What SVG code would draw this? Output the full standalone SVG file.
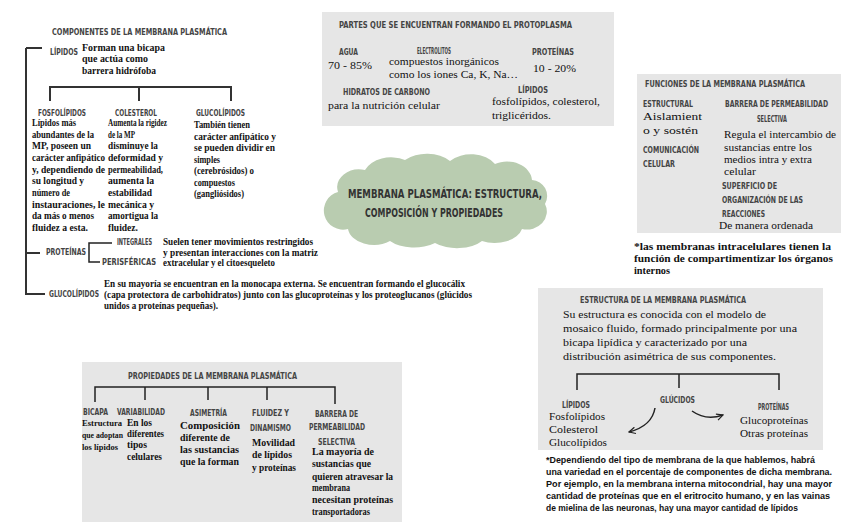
<svg xmlns="http://www.w3.org/2000/svg" width="848" height="530" viewBox="0 0 848 530">
<style>
.h{font-family:"DejaVu Sans Condensed","Liberation Sans",sans-serif;font-weight:bold;font-size:8px;fill:#444}
.b{font-family:"Liberation Serif",serif;font-weight:bold;font-size:10px;fill:#111}
.c{font-family:"Liberation Serif",serif;font-weight:bold;font-size:9.5px;fill:#111}
.s{font-family:"Liberation Serif",serif;font-weight:bold;font-size:8.5px;fill:#111}
.m{font-family:"Liberation Serif",serif;font-size:11px;fill:#111}
.n{font-family:"Liberation Sans",sans-serif;font-weight:bold;font-size:8.5px;fill:#111}
.t{font-family:"DejaVu Sans Condensed","Liberation Sans",sans-serif;font-weight:bold;font-size:12px;fill:#333}
.box{fill:#e6e6e6}
.ln{fill:none;stroke:#222;stroke-width:1.5}
.lt{fill:none;stroke:#333;stroke-width:2}
.bar{fill:#333}
</style>
<defs>
<marker id="chev" viewBox="0 0 10 10" refX="9" refY="5" markerWidth="8" markerHeight="8" orient="auto" markerUnits="userSpaceOnUse">
<path d="M1,1 L9,5 L1,9" fill="none" stroke="#222" stroke-width="1.5"/>
</marker>
</defs>

<g id="componentes">
<text class="h" x="52" y="35" textLength="175" lengthAdjust="spacingAndGlyphs">COMPONENTES DE LA MEMBRANA PLASMÁTICA</text>
</g>

<g id="lipidos">
<text class="h" x="50" y="55" textLength="28" lengthAdjust="spacingAndGlyphs">LÍPIDOS</text>
<text class="b" x="82" y="51" textLength="83" lengthAdjust="spacingAndGlyphs">Forman una bicapa</text>
<text class="b" x="82" y="62" textLength="66" lengthAdjust="spacingAndGlyphs">que actúa como</text>
<text class="b" x="82" y="74" textLength="74" lengthAdjust="spacingAndGlyphs">barrera hidrófoba</text>
</g>

<g id="fosfolipidos">
<text class="h" x="38" y="116" textLength="48" lengthAdjust="spacingAndGlyphs">FOSFOLÍPIDOS</text>
<text class="c" x="32" y="126" textLength="44" lengthAdjust="spacingAndGlyphs">Lípidos más</text>
<text class="c" x="32" y="137.7" textLength="62" lengthAdjust="spacingAndGlyphs">abundantes de la</text>
<text class="c" x="32" y="149.3" textLength="59" lengthAdjust="spacingAndGlyphs">MP, poseen un</text>
<text class="c" x="32" y="161" textLength="73" lengthAdjust="spacingAndGlyphs">carácter anfipático</text>
<text class="c" x="32" y="172.7" textLength="73" lengthAdjust="spacingAndGlyphs">y, dependiendo de</text>
<text class="c" x="32" y="184.3" textLength="52" lengthAdjust="spacingAndGlyphs">su longitud y</text>
<text class="c" x="32" y="196" textLength="38" lengthAdjust="spacingAndGlyphs">número de</text>
<text class="c" x="32" y="207.7" textLength="73" lengthAdjust="spacingAndGlyphs">instauraciones, le</text>
<text class="c" x="32" y="219.3" textLength="62" lengthAdjust="spacingAndGlyphs">da más o menos</text>
<text class="c" x="32" y="231" textLength="56" lengthAdjust="spacingAndGlyphs">fluidez a esta.</text>
</g>

<g id="colesterol">
<text class="h" x="115" y="116" textLength="42" lengthAdjust="spacingAndGlyphs">COLESTEROL</text>
<text class="c" x="108" y="126" textLength="59" lengthAdjust="spacingAndGlyphs">Aumenta la rigidez</text>
<text class="c" x="108" y="137.7" textLength="27" lengthAdjust="spacingAndGlyphs">de la MP</text>
<text class="c" x="108" y="149.3" textLength="50" lengthAdjust="spacingAndGlyphs">disminuye la</text>
<text class="c" x="108" y="161" textLength="55" lengthAdjust="spacingAndGlyphs">deformidad y</text>
<text class="c" x="108" y="172.7" textLength="55" lengthAdjust="spacingAndGlyphs">permeabilidad,</text>
<text class="c" x="108" y="184.3" textLength="46" lengthAdjust="spacingAndGlyphs">aumenta la</text>
<text class="c" x="108" y="196" textLength="44" lengthAdjust="spacingAndGlyphs">estabilidad</text>
<text class="c" x="108" y="207.7" textLength="46" lengthAdjust="spacingAndGlyphs">mecánica y</text>
<text class="c" x="108" y="219.3" textLength="50" lengthAdjust="spacingAndGlyphs">amortigua la</text>
<text class="c" x="108" y="231" textLength="30" lengthAdjust="spacingAndGlyphs">fluidez.</text>
</g>

<g id="glucolipidos-col">
<text class="h" x="196" y="116" textLength="49" lengthAdjust="spacingAndGlyphs">GLUCOLÍPIDOS</text>
<text class="c" x="194" y="128" textLength="56" lengthAdjust="spacingAndGlyphs">También tienen</text>
<text class="c" x="194" y="139.5" textLength="82" lengthAdjust="spacingAndGlyphs">carácter anfipático y</text>
<text class="c" x="194" y="151" textLength="81" lengthAdjust="spacingAndGlyphs">se pueden dividir en</text>
<text class="c" x="194" y="162.5" textLength="26" lengthAdjust="spacingAndGlyphs">simples</text>
<text class="c" x="194" y="174" textLength="60" lengthAdjust="spacingAndGlyphs">(cerebrósidos) o</text>
<text class="c" x="194" y="185.5" textLength="41" lengthAdjust="spacingAndGlyphs">compuestos</text>
<text class="c" x="194" y="197" textLength="50" lengthAdjust="spacingAndGlyphs">(gangliósidos)</text>
</g>

<g id="proteinas">
<text class="h" x="46" y="255" textLength="40" lengthAdjust="spacingAndGlyphs">PROTEÍNAS</text>
<text class="h" x="117" y="245" textLength="35" lengthAdjust="spacingAndGlyphs">INTEGRALES</text>
<text class="h" x="102" y="265" textLength="54" lengthAdjust="spacingAndGlyphs">PERISFÉRICAS</text>
<text class="b" x="163" y="245" textLength="150" lengthAdjust="spacingAndGlyphs">Suelen tener movimientos restringidos</text>
<text class="b" x="163" y="256" textLength="155" lengthAdjust="spacingAndGlyphs">y presentan interacciones con la matriz</text>
<text class="b" x="163" y="266" textLength="112" lengthAdjust="spacingAndGlyphs">extracelular y el citoesqueleto</text>
</g>

<g id="glucolipidos">
<text class="h" x="49" y="297" textLength="50" lengthAdjust="spacingAndGlyphs">GLUCOLÍPIDOS</text>
<text class="b" x="104" y="287" textLength="361" lengthAdjust="spacingAndGlyphs">En su mayoría se encuentran en la monocapa externa. Se encuentran formando el glucocálix</text>
<text class="b" x="104" y="298" textLength="368" lengthAdjust="spacingAndGlyphs">(capa protectora de carbohidratos) junto con las glucoproteínas y los proteoglucanos (glúcidos</text>
<text class="b" x="104" y="309" textLength="114" lengthAdjust="spacingAndGlyphs">unidos a proteínas pequeñas).</text>
</g>

<g id="protoplasma">
<rect class="box" x="322" y="12" width="292" height="114"/>
<text class="h" x="339" y="28" textLength="233" lengthAdjust="spacingAndGlyphs">PARTES QUE SE ENCUENTRAN FORMANDO EL PROTOPLASMA</text>
<text class="h" x="339" y="55" textLength="19" lengthAdjust="spacingAndGlyphs">AGUA</text>
<text class="m" x="328" y="69" textLength="44" lengthAdjust="spacingAndGlyphs">70 - 85%</text>
<text class="h" x="417" y="54" textLength="34" lengthAdjust="spacingAndGlyphs">ELECTROLITOS</text>
<text class="m" x="389" y="65" textLength="110" lengthAdjust="spacingAndGlyphs">compuestos inorgánicos</text>
<text class="m" x="389" y="78" textLength="129" lengthAdjust="spacingAndGlyphs">como los iones Ca, K, Na…</text>
<text class="h" x="532" y="55" textLength="42" lengthAdjust="spacingAndGlyphs">PROTEÍNAS</text>
<text class="m" x="533" y="72" textLength="43" lengthAdjust="spacingAndGlyphs">10 - 20%</text>
<text class="h" x="343" y="95" textLength="87" lengthAdjust="spacingAndGlyphs">HIDRATOS DE CARBONO</text>
<text class="m" x="328" y="109" textLength="112" lengthAdjust="spacingAndGlyphs">para la nutrición celular</text>
<text class="h" x="518" y="93" textLength="30" lengthAdjust="spacingAndGlyphs">LÍPIDOS</text>
<text class="m" x="492" y="105" textLength="108" lengthAdjust="spacingAndGlyphs">fosfolípidos, colesterol,</text>
<text class="m" x="492" y="119" textLength="59" lengthAdjust="spacingAndGlyphs">triglicéridos.</text>
</g>

<g id="funciones">
<rect class="box" x="637" y="74" width="204" height="159"/>
<text class="h" x="645" y="87" textLength="160" lengthAdjust="spacingAndGlyphs">FUNCIONES DE LA MEMBRANA PLASMÁTICA</text>
<text class="h" x="643" y="107" textLength="50" lengthAdjust="spacingAndGlyphs">ESTRUCTURAL</text>
<text class="m" x="643" y="120" textLength="59" lengthAdjust="spacingAndGlyphs">Aislamient</text>
<text class="m" x="643" y="134" textLength="55" lengthAdjust="spacingAndGlyphs">o y sostén</text>
<text class="h" x="643" y="153" textLength="56" lengthAdjust="spacingAndGlyphs">COMUNICACIÓN</text>
<text class="h" x="643" y="167" textLength="32" lengthAdjust="spacingAndGlyphs">CELULAR</text>
<text class="h" x="725" y="107" textLength="103" lengthAdjust="spacingAndGlyphs">BARRERA DE PERMEABILIDAD</text>
<text class="h" x="757" y="122" textLength="30" lengthAdjust="spacingAndGlyphs">SELECTIVA</text>
<text class="m" x="724" y="138" textLength="112" lengthAdjust="spacingAndGlyphs">Regula el intercambio de</text>
<text class="m" x="724" y="151" textLength="88" lengthAdjust="spacingAndGlyphs">sustancias entre los</text>
<text class="m" x="724" y="163" textLength="88" lengthAdjust="spacingAndGlyphs">medios intra y extra</text>
<text class="m" x="724" y="175" textLength="32" lengthAdjust="spacingAndGlyphs">celular</text>
<text class="h" x="722" y="189" textLength="55" lengthAdjust="spacingAndGlyphs">SUPERFICIO DE</text>
<text class="h" x="722" y="203" textLength="81" lengthAdjust="spacingAndGlyphs">ORGANIZACIÓN DE LAS</text>
<text class="h" x="722" y="217" textLength="43" lengthAdjust="spacingAndGlyphs">REACCIONES</text>
<text class="m" x="719" y="229" textLength="94" lengthAdjust="spacingAndGlyphs">De manera ordenada</text>
</g>

<g id="nota-funciones">
<text class="b" x="634" y="250" textLength="197" lengthAdjust="spacingAndGlyphs">*las membranas intracelulares tienen la</text>
<text class="b" x="634" y="262" textLength="199" lengthAdjust="spacingAndGlyphs">función de compartimentizar los órganos</text>
<text class="b" x="634" y="274" textLength="36" lengthAdjust="spacingAndGlyphs">internos</text>
</g>

<g id="titulo">
<path fill="#b9ccb0" d="M338,192 A22,18 0 0 1 365,170 A28,20 0 0 1 405,160 A30,20 0 0 1 450,161 A28,20 0 0 1 495,164 A25,20 0 0 1 532,180 A16,16 0 0 1 545,204 A20,18 0 0 1 522,229 A28,18 0 0 1 482,241 A30,16 0 0 1 435,243 A30,16 0 0 1 390,241 A26,18 0 0 1 348,229 A18,18 0 0 1 338,192 Z"/>
<text class="t" x="348" y="198" textLength="194" lengthAdjust="spacingAndGlyphs">MEMBRANA PLASMÁTICA: ESTRUCTURA,</text>
<text class="t" x="365" y="217" textLength="138" lengthAdjust="spacingAndGlyphs">COMPOSICIÓN Y PROPIEDADES</text>
</g>

<g id="estructura">
<rect class="box" x="538" y="288" width="285" height="162"/>
<text class="h" x="580" y="303" textLength="166" lengthAdjust="spacingAndGlyphs">ESTRUCTURA DE LA MEMBRANA PLASMÁTICA</text>
<text class="m" x="563" y="318" textLength="203" lengthAdjust="spacingAndGlyphs">Su estructura es conocida con el modelo de</text>
<text class="m" x="563" y="332" textLength="234" lengthAdjust="spacingAndGlyphs">mosaico fluido, formado principalmente por una</text>
<text class="m" x="563" y="346" textLength="184" lengthAdjust="spacingAndGlyphs">bicapa lipídica y caracterizado por una</text>
<text class="m" x="563" y="360" textLength="213" lengthAdjust="spacingAndGlyphs">distribución asimétrica de sus componentes.</text>
<text class="h" x="562" y="408" textLength="28" lengthAdjust="spacingAndGlyphs">LÍPIDOS</text>
<text class="m" x="549" y="420" textLength="56" lengthAdjust="spacingAndGlyphs">Fosfolípidos</text>
<text class="m" x="549" y="433" textLength="49" lengthAdjust="spacingAndGlyphs">Colesterol</text>
<text class="m" x="549" y="446" textLength="58" lengthAdjust="spacingAndGlyphs">Glucolípidos</text>
<text class="h" x="660" y="403" textLength="35" lengthAdjust="spacingAndGlyphs">GLÚCIDOS</text>
<text class="h" x="758" y="410" textLength="31" lengthAdjust="spacingAndGlyphs">PROTEÍNAS</text>
<text class="m" x="740" y="424" textLength="68" lengthAdjust="spacingAndGlyphs">Glucoproteínas</text>
<text class="m" x="740" y="437" textLength="68" lengthAdjust="spacingAndGlyphs">Otras proteínas</text>
</g>

<g id="nota-estructura">
<text class="n" x="546" y="463" textLength="269" lengthAdjust="spacingAndGlyphs">*Dependiendo del tipo de membrana de la que hablemos, habrá</text>
<text class="n" x="546" y="475" textLength="286" lengthAdjust="spacingAndGlyphs">una variedad en el porcentaje de componentes de dicha membrana.</text>
<text class="n" x="546" y="487" textLength="286" lengthAdjust="spacingAndGlyphs">Por ejemplo, en la membrana interna mitocondrial, hay una mayor</text>
<text class="n" x="546" y="499" textLength="284" lengthAdjust="spacingAndGlyphs">cantidad de proteínas que en el eritrocito humano, y en las vainas</text>
<text class="n" x="546" y="511" textLength="252" lengthAdjust="spacingAndGlyphs">de mielina de las neuronas, hay una mayor cantidad de lípidos</text>
</g>

<g id="propiedades">
<rect class="box" x="82" y="362" width="320" height="160"/>
<text class="h" x="128" y="379" textLength="169" lengthAdjust="spacingAndGlyphs">PROPIEDADES DE LA MEMBRANA PLASMÁTICA</text>
<text class="h" x="83" y="415" textLength="25" lengthAdjust="spacingAndGlyphs">BICAPA</text>
<text class="s" x="82" y="426" textLength="40" lengthAdjust="spacingAndGlyphs">Estructura</text>
<text class="s" x="82" y="438" textLength="41" lengthAdjust="spacingAndGlyphs">que adoptan</text>
<text class="s" x="82" y="450" textLength="36" lengthAdjust="spacingAndGlyphs">los lípidos</text>
<text class="h" x="117" y="415" textLength="48" lengthAdjust="spacingAndGlyphs">VARIABILIDAD</text>
<text class="c" x="127" y="426" textLength="25" lengthAdjust="spacingAndGlyphs">En los</text>
<text class="c" x="127" y="437" textLength="37" lengthAdjust="spacingAndGlyphs">diferentes</text>
<text class="c" x="127" y="448" textLength="20" lengthAdjust="spacingAndGlyphs">tipos</text>
<text class="c" x="127" y="460" textLength="35" lengthAdjust="spacingAndGlyphs">celulares</text>
<text class="h" x="190" y="416" textLength="37" lengthAdjust="spacingAndGlyphs">ASIMETRÍA</text>
<text class="c" x="180" y="429" textLength="60" lengthAdjust="spacingAndGlyphs">Composición</text>
<text class="c" x="180" y="441" textLength="50" lengthAdjust="spacingAndGlyphs">diferente de</text>
<text class="c" x="180" y="453" textLength="59" lengthAdjust="spacingAndGlyphs">las sustancias</text>
<text class="c" x="180" y="465" textLength="59" lengthAdjust="spacingAndGlyphs">que la forman</text>
<text class="h" x="252" y="416" textLength="37" lengthAdjust="spacingAndGlyphs">FLUIDEZ Y</text>
<text class="h" x="250" y="431" textLength="41" lengthAdjust="spacingAndGlyphs">DINAMISMO</text>
<text class="c" x="252" y="446" textLength="43" lengthAdjust="spacingAndGlyphs">Movilidad</text>
<text class="c" x="252" y="458" textLength="40" lengthAdjust="spacingAndGlyphs">de lípidos</text>
<text class="c" x="252" y="471" textLength="44" lengthAdjust="spacingAndGlyphs">y proteínas</text>
<text class="h" x="315" y="417" textLength="43" lengthAdjust="spacingAndGlyphs">BARRERA DE</text>
<text class="h" x="309" y="430" textLength="56" lengthAdjust="spacingAndGlyphs">PERMEABILIDAD</text>
<text class="h" x="318" y="445" textLength="37" lengthAdjust="spacingAndGlyphs">SELECTIVA</text>
<text class="c" x="312" y="455" textLength="62" lengthAdjust="spacingAndGlyphs">La mayoría de</text>
<text class="c" x="312" y="467" textLength="59" lengthAdjust="spacingAndGlyphs">sustancias que</text>
<text class="c" x="312" y="480" textLength="81" lengthAdjust="spacingAndGlyphs">quieren atravesar la</text>
<text class="c" x="312" y="491" textLength="38" lengthAdjust="spacingAndGlyphs">membrana</text>
<text class="c" x="312" y="503" textLength="81" lengthAdjust="spacingAndGlyphs">necesitan proteínas</text>
<text class="c" x="312" y="515" textLength="58" lengthAdjust="spacingAndGlyphs">transportadoras</text>
</g>

<g id="connectors">
<path class="lt" d="M26,48 V295 M26,48 H42 M26,253 H40 M26,294 H45"/>
<rect class="bar" x="49" y="86" width="183" height="2"/>
<rect class="bar" x="49" y="86" width="2" height="15"/>
<rect class="bar" x="138" y="86" width="2" height="15"/>
<rect class="bar" x="230" y="86" width="2" height="15"/>
<path class="ln" d="M112,243 H89 V262 H100"/>
<path class="ln" d="M577,390 V374 H779 V390 M679,374 V388"/>
<path class="ln" d="M655,408 Q652,426 629,432" marker-end="url(#chev)"/>
<path class="ln" d="M692,411 Q706,421 723,415" marker-end="url(#chev)"/>
<path class="ln" d="M95,402 V387 H335 V404 M145,387 V400 M208,387 V400 M267,387 V400"/>
</g>
</svg>
